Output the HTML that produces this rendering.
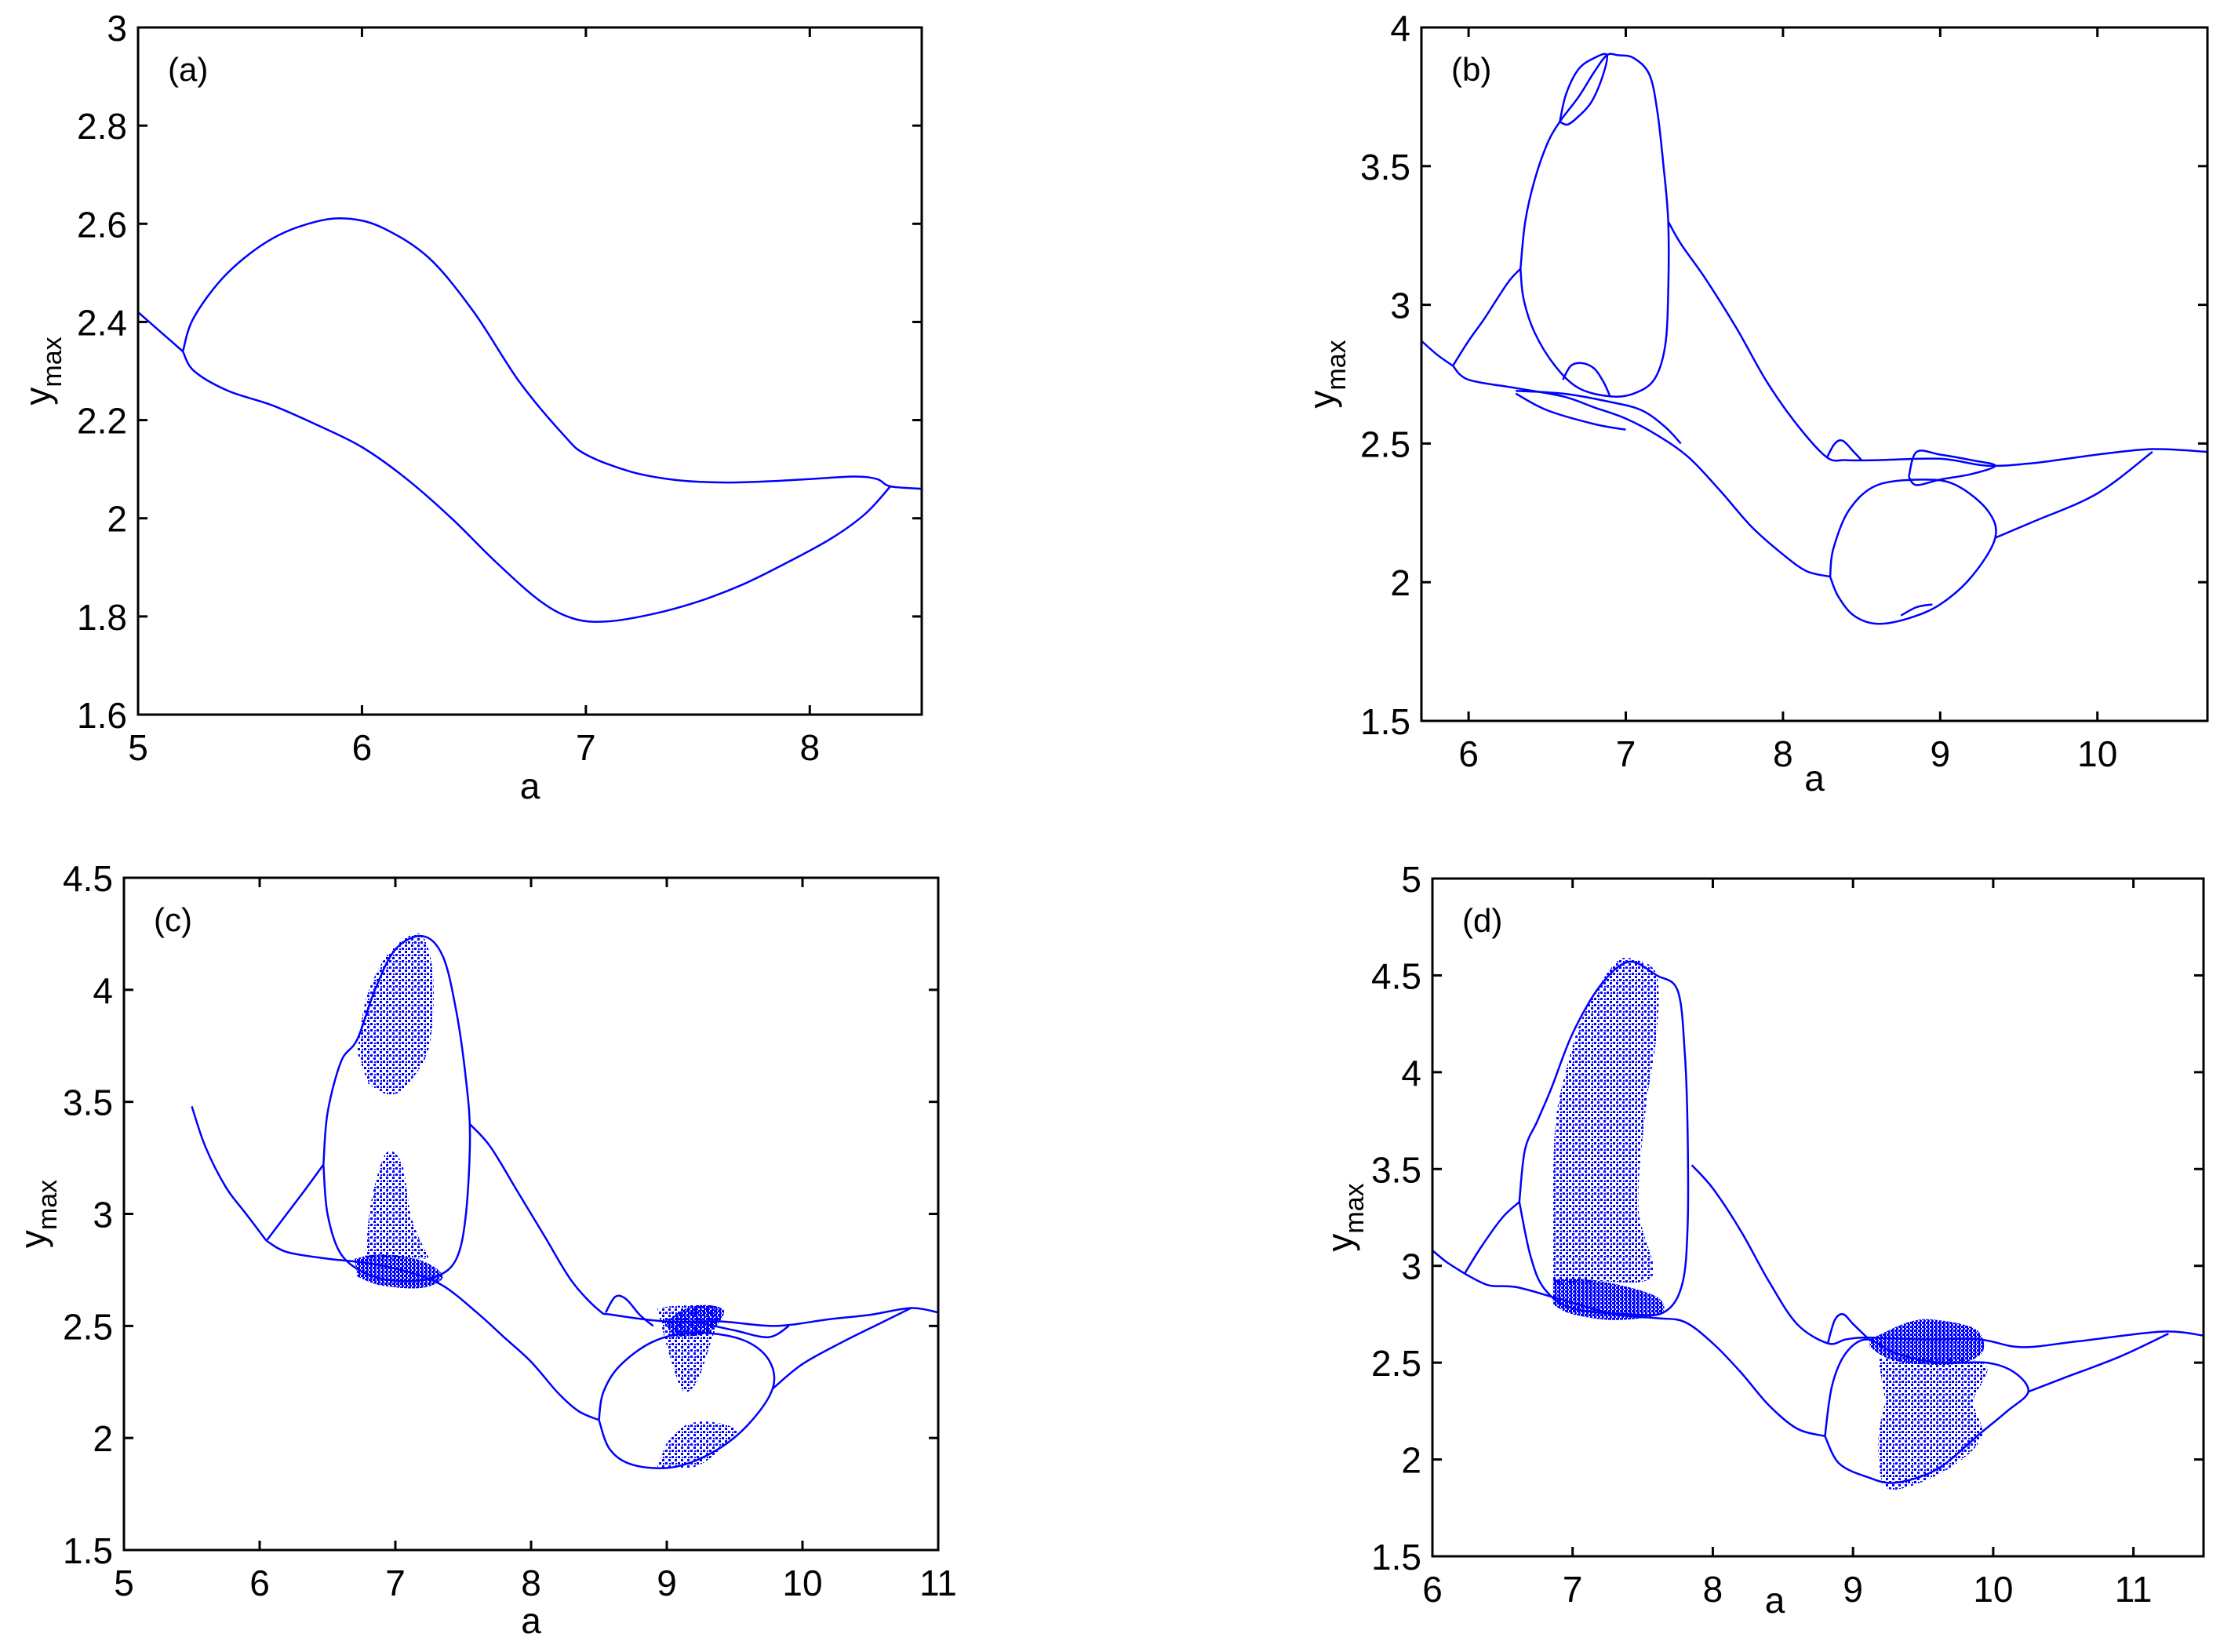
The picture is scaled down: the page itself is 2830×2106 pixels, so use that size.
<!DOCTYPE html>
<html><head><meta charset="utf-8">
<style>
html,body{margin:0;padding:0;background:#fff;}
svg{display:block;}
text{font-family:"Liberation Sans",Arial,sans-serif;fill:#000;}
</style></head>
<body>
<svg id="fig" xmlns="http://www.w3.org/2000/svg" width="2830" height="2106" viewBox="0 0 2830 2106">
<defs>
<pattern id="chaos" width="8" height="8" patternUnits="userSpaceOnUse">
<rect x="0" y="0" width="3" height="3" fill="#0000ff"/>
<rect x="4" y="4" width="3" height="3" fill="#0000ff"/>
<rect x="5" y="1" width="2" height="2" fill="#0000ff"/>
</pattern>
<pattern id="dense" width="5" height="5" patternUnits="userSpaceOnUse">
<rect x="0" y="0" width="4" height="3" fill="#0000ff"/>
<rect x="2" y="3" width="3" height="2" fill="#0000ff"/>
</pattern>
</defs>
</svg>
<script>
// ---------- Panel (a) data ----------
const aXTicks=[5,6,7,8];
const aYTicks=[1.6,1.8,2,2.2,2.4,2.6,2.8,3];
const aYTickLabels=["1.6","1.8","2","2.2","2.4","2.6","2.8","3"];
const aSingle=[[5,2.42],[5.1,2.38],[5.2,2.34]];
const aUpper=[[5.2,2.34],[5.25,2.41],[5.4,2.5],[5.6,2.57],[5.8,2.605],[5.95,2.61],[6.1,2.59],[6.3,2.53],[6.5,2.42],[6.7,2.28],[6.9,2.17],[7.0,2.13],[7.2,2.095],[7.4,2.078],[7.6,2.073],[7.8,2.075],[8.0,2.08],[8.2,2.085],[8.3,2.08],[8.36,2.065],[8.5,2.06]];
const aLower=[[5.2,2.34],[5.25,2.3],[5.4,2.26],[5.6,2.23],[5.8,2.19],[6.0,2.145],[6.2,2.08],[6.4,2.0],[6.6,1.91],[6.8,1.83],[6.95,1.795],[7.1,1.79],[7.3,1.805],[7.5,1.83],[7.7,1.865],[7.9,1.91],[8.1,1.96],[8.25,2.01],[8.36,2.065]];

// ---------- Panel (b) data ----------
const bXTicks=[6,7,8,9,10];
const bYTicks=[1.5,2,2.5,3,3.5,4];
const bYTickLabels=["1.5","2","2.5","3","3.5","4"];
const bStart=[[5.7,2.87],[5.8,2.82],[5.9,2.78]];
const bUpLeft=[[5.9,2.78],[6.0,2.87],[6.1,2.95],[6.25,3.08],[6.33,3.13]];
const bBigLoop=[[6.33,3.13],[6.36,3.3],[6.42,3.45],[6.5,3.58],[6.58,3.66],[6.7,3.75],[6.8,3.84],[6.88,3.9],[6.95,3.9],[7.05,3.89],[7.15,3.83],[7.2,3.7],[7.24,3.5],[7.27,3.3],[7.27,3.05],[7.25,2.85],[7.18,2.73],[7.05,2.68],[6.9,2.67],[6.7,2.7],[6.55,2.78],[6.42,2.9],[6.35,3.02],[6.33,3.13]];
const bTopLoop=[[6.58,3.66],[6.62,3.76],[6.7,3.85],[6.8,3.89],[6.88,3.9],[6.85,3.82],[6.78,3.73],[6.7,3.68],[6.63,3.65],[6.58,3.66]];
const bSmallLoop=[[6.6,2.73],[6.65,2.78],[6.72,2.79],[6.8,2.77],[6.86,2.72],[6.9,2.67]];
const bUpRight=[[7.27,3.3],[7.35,3.22],[7.5,3.1],[7.7,2.92],[7.9,2.72],[8.1,2.56],[8.28,2.45],[8.4,2.44],[8.6,2.44],[9.0,2.445],[9.3,2.42],[9.6,2.43],[10.0,2.46],[10.35,2.48],[10.7,2.47]];
const bBump=[[8.28,2.45],[8.33,2.5],[8.38,2.51],[8.45,2.47],[8.5,2.44]];
const bLowA=[[5.9,2.78],[6.0,2.73],[6.3,2.7],[6.6,2.67],[6.8,2.63],[7.0,2.59],[7.2,2.53],[7.4,2.45],[7.6,2.33],[7.8,2.2],[8.0,2.1],[8.15,2.04],[8.3,2.02]];
const bLowB=[[6.3,2.69],[6.6,2.68],[6.9,2.65],[7.1,2.62],[7.25,2.56],[7.35,2.5]];
const bLowC=[[6.3,2.68],[6.5,2.62],[6.8,2.57],[7.0,2.55]];
const bLoop2=[[8.3,2.02],[8.35,1.95],[8.45,1.88],[8.6,1.85],[8.8,1.87],[9.0,1.92],[9.2,2.02],[9.35,2.16],[9.3,2.26],[9.1,2.35],[8.9,2.37],[8.6,2.35],[8.42,2.26],[8.32,2.12],[8.3,2.02]];
const bLoop3=[[8.8,2.38],[8.85,2.47],[9.0,2.46],[9.2,2.44],[9.35,2.42],[9.2,2.39],[9.0,2.37],[8.85,2.35],[8.8,2.38]];
const bTail=[[9.35,2.16],[9.6,2.22],[10.0,2.32],[10.35,2.47]];
const bSmall2=[[8.75,1.88],[8.85,1.91],[8.95,1.92]];

// ---------- Panel (c) data ----------
const cXTicks=[5,6,7,8,9,10,11];
const cYTicks=[1.5,2,2.5,3,3.5,4,4.5];
const cYTickLabels=["1.5","2","2.5","3","3.5","4","4.5"];
const cStart=[[5.5,3.48],[5.6,3.3],[5.75,3.12],[5.9,3.0],[6.05,2.88]];
const cLowA=[[6.05,2.88],[6.2,2.83],[6.5,2.8],[6.8,2.78],[7.1,2.74],[7.35,2.68],[7.6,2.56],[7.8,2.45],[8.0,2.34],[8.2,2.2],[8.35,2.12],[8.5,2.08]];
const cUpLeft=[[6.05,2.88],[6.2,3.0],[6.35,3.12],[6.47,3.22]];
const cBigLoop=[[6.47,3.22],[6.5,3.45],[6.6,3.68],[6.72,3.78],[6.85,4.0],[7.0,4.18],[7.2,4.24],[7.35,4.15],[7.45,3.9],[7.52,3.6],[7.55,3.35],[7.52,3.0],[7.45,2.8],[7.3,2.72],[7.05,2.7],[6.8,2.73],[6.6,2.82],[6.5,3.0],[6.47,3.22]];
const cUpRight=[[7.55,3.4],[7.7,3.3],[7.9,3.1],[8.1,2.9],[8.3,2.7],[8.5,2.57],[8.6,2.55],[9.0,2.52],[9.4,2.52],[9.8,2.5],[10.2,2.53],[10.5,2.55],[10.8,2.58],[11,2.56]];
const cBump=[[8.55,2.56],[8.62,2.63],[8.7,2.62],[8.8,2.55],[8.9,2.5]];
const cLoop2=[[8.5,2.08],[8.58,1.95],[8.75,1.88],[9.05,1.87],[9.35,1.94],[9.6,2.06],[9.78,2.22],[9.75,2.35],[9.55,2.44],[9.2,2.47],[8.9,2.43],[8.65,2.32],[8.53,2.2],[8.5,2.08]];
const cTail=[[9.78,2.22],[10.0,2.33],[10.3,2.43],[10.6,2.52],[10.8,2.58]];
const cTopLoop=[[9.2,2.52],[9.5,2.48],[9.75,2.45],[9.9,2.5]];
const cChaos1=[[6.72,3.72],[6.78,3.95],[6.9,4.12],[7.05,4.22],[7.2,4.24],[7.28,4.05],[7.25,3.75],[7.12,3.6],[6.97,3.53],[6.8,3.58]];
const cChaos2=[[6.78,2.8],[6.82,3.05],[6.93,3.27],[7.05,3.22],[7.12,2.98],[7.25,2.8]];
const cDense1=[[6.7,2.8],[6.9,2.82],[7.2,2.79],[7.35,2.72],[7.2,2.67],[6.9,2.68],[6.72,2.72]];
const cChaos3=[[8.93,2.58],[9.1,2.59],[9.38,2.58],[9.32,2.42],[9.22,2.25],[9.12,2.21],[9.03,2.35],[8.97,2.48]];
const cDense2=[[8.98,2.52],[9.2,2.59],[9.42,2.57],[9.3,2.47],[9.05,2.45]];
const cChaos4=[[8.93,1.87],[9.2,1.87],[9.4,1.95],[9.52,2.03],[9.35,2.07],[9.15,2.06],[9.0,1.98]];

// ---------- Panel (d) data ----------
const dXTicks=[6,7,8,9,10,11];
const dYTicks=[1.5,2,2.5,3,3.5,4,4.5,5];
const dYTickLabels=["1.5","2","2.5","3","3.5","4","4.5","5"];
const dStart=[[6.0,3.08],[6.1,3.02],[6.23,2.96]];
const dLowA=[[6.23,2.96],[6.4,2.9],[6.6,2.89],[6.9,2.83],[7.3,2.75],[7.6,2.73],[7.8,2.71],[8.0,2.6],[8.2,2.45],[8.4,2.28],[8.6,2.16],[8.8,2.12]];
const dUpLeft=[[6.23,2.96],[6.35,3.1],[6.5,3.25],[6.62,3.33]];
const dBigLoop=[[6.62,3.33],[6.66,3.6],[6.75,3.75],[6.85,3.92],[7.0,4.2],[7.2,4.45],[7.4,4.57],[7.6,4.5],[7.75,4.42],[7.8,4.1],[7.82,3.7],[7.82,3.2],[7.78,2.9],[7.65,2.76],[7.4,2.75],[7.0,2.78],[6.8,2.88],[6.7,3.05],[6.62,3.33]];
const dUpRight=[[7.85,3.52],[8.0,3.4],[8.2,3.18],[8.4,2.92],[8.6,2.7],[8.82,2.6],[8.95,2.62],[9.1,2.63],[9.5,2.62],[9.9,2.62],[10.2,2.58],[10.6,2.61],[11.2,2.66],[11.5,2.64]];
const dBump=[[8.82,2.6],[8.87,2.72],[8.93,2.75],[9.0,2.7],[9.1,2.63]];
const dLoop2=[[8.8,2.12],[8.9,1.98],[9.1,1.91],[9.3,1.88],[9.6,1.95],[9.9,2.13],[10.1,2.25],[10.25,2.35],[10.15,2.45],[9.95,2.5],[9.6,2.5],[9.3,2.55],[9.1,2.62],[8.95,2.55],[8.85,2.38],[8.8,2.12]];
const dTail=[[10.25,2.35],[10.5,2.42],[10.9,2.53],[11.25,2.65]];
const dChaos1=[[6.86,2.9],[6.86,3.4],[6.88,3.75],[6.95,4.0],[7.08,4.3],[7.3,4.56],[7.45,4.58],[7.6,4.5],[7.6,4.2],[7.52,3.8],[7.47,3.3],[7.57,2.95],[7.2,2.92]];
const dDense1=[[6.86,2.93],[7.1,2.93],[7.4,2.89],[7.62,2.83],[7.62,2.75],[7.3,2.72],[7.0,2.75],[6.86,2.8]];
const dDense2=[[9.12,2.62],[9.4,2.71],[9.6,2.72],[9.88,2.67],[9.92,2.55],[9.7,2.49],[9.3,2.51],[9.12,2.58]];
const dChaos2=[[9.18,2.52],[9.92,2.5],[9.86,2.3],[9.92,2.12],[9.72,1.97],[9.4,1.86],[9.22,1.87],[9.18,2.1],[9.23,2.3]];

// ---------- Layout ----------
const panels=[
 {id:"a",x0:176,x1:1175,y0:35,y1:911,xmin:5,xmax:8.5,ymin:1.6,ymax:3,xt:aXTicks,yt:aYTicks,ytl:aYTickLabels,
  lines:[aSingle,aUpper,aLower],areas:[],dense:[],ylabX:48,xlabY:1018},
 {id:"b",x0:1812,x1:2814,y0:35,y1:919,xmin:5.7,xmax:10.7,ymin:1.5,ymax:4,xt:bXTicks,yt:bYTicks,ytl:bYTickLabels,
  lines:[bStart,bUpLeft,bBigLoop,bTopLoop,bSmallLoop,bUpRight,bBump,bLowA,bLowB,bLowC,bLoop2,bLoop3,bTail,bSmall2],areas:[],dense:[],ylabX:1685,xlabY:1008},
 {id:"c",x0:158,x1:1196,y0:1119,y1:1976,xmin:5,xmax:11,ymin:1.5,ymax:4.5,xt:cXTicks,yt:cYTicks,ytl:cYTickLabels,
  lines:[cStart,cLowA,cUpLeft,cBigLoop,cUpRight,cBump,cLoop2,cTail,cTopLoop],areas:[cChaos1,cChaos2,cChaos3,cChaos4],dense:[cDense1,cDense2],ylabX:42,xlabY:2082},
 {id:"d",x0:1826,x1:2809,y0:1120,y1:1984,xmin:6,xmax:11.5,ymin:1.5,ymax:5,xt:dXTicks,yt:dYTicks,ytl:dYTickLabels,
  lines:[dStart,dLowA,dUpLeft,dBigLoop,dUpRight,dBump,dLoop2,dTail],areas:[dChaos1,dChaos2],dense:[dDense1,dDense2],ylabX:1708,xlabY:2056}
];
const NS="http://www.w3.org/2000/svg";
const fig=document.getElementById("fig");
function mk(tag,attrs,parent){const e=document.createElementNS(NS,tag);for(const k in attrs)e.setAttribute(k,attrs[k]);parent.appendChild(e);return e;}
function smooth(pts){
 if(pts.length<3)return "M"+pts.map(p=>p[0]+","+p[1]).join(" L");
 let d="M"+pts[0][0]+","+pts[0][1];
 for(let i=0;i<pts.length-1;i++){
  const p0=pts[Math.max(0,i-1)],p1=pts[i],p2=pts[i+1],p3=pts[Math.min(pts.length-1,i+2)];
  const c1x=p1[0]+(p2[0]-p0[0])/6,c1y=p1[1]+(p2[1]-p0[1])/6;
  const c2x=p2[0]-(p3[0]-p1[0])/6,c2y=p2[1]-(p3[1]-p1[1])/6;
  d+=" C"+c1x.toFixed(1)+","+c1y.toFixed(1)+" "+c2x.toFixed(1)+","+c2y.toFixed(1)+" "+p2[0].toFixed(1)+","+p2[1].toFixed(1);
 }
 return d;
}
panels.forEach(p=>{
 const sx=v=>p.x0+(v-p.xmin)/(p.xmax-p.xmin)*(p.x1-p.x0);
 const sy=v=>p.y1-(v-p.ymin)/(p.ymax-p.ymin)*(p.y1-p.y0);
 const g=mk("g",{},fig);
 
 
 const clipId="clip"+p.id;
 const cp=mk("clipPath",{id:clipId},g);
 mk("rect",{x:p.x0,y:p.y0,width:p.x1-p.x0,height:p.y1-p.y0},cp);
 const plot=mk("g",{"clip-path":"url(#"+clipId+")"},g);
 
 
 p.areas.forEach(ar=>{
  const e=mk("path",{d:smooth(ar.map(q=>[sx(q[0]),sy(q[1])]))+" Z",fill:"url(#chaos)",stroke:"none"},plot);
  
  
 });
 p.dense.forEach(ar=>{
  const e=mk("path",{d:smooth(ar.map(q=>[sx(q[0]),sy(q[1])]))+" Z",fill:"url(#dense)",stroke:"none"},plot);
  
  
 });
 p.lines.forEach(ln=>{
  const e=mk("path",{d:smooth(ln.map(q=>[sx(q[0]),sy(q[1])])),fill:"none",stroke:"#0000ff","stroke-width":2.5,"stroke-linejoin":"round"},plot);
  
  
 });
 const fr=mk("rect",{x:p.x0,y:p.y0,width:p.x1-p.x0,height:p.y1-p.y0,fill:"none",stroke:"#000","stroke-width":3},g);
 
 
 p.xt.forEach(v=>{
  const X=sx(v);
  mk("line",{x1:X,y1:p.y1,x2:X,y2:p.y1-12,stroke:"#000","stroke-width":3},g);
  mk("line",{x1:X,y1:p.y0,x2:X,y2:p.y0+12,stroke:"#000","stroke-width":3},g);
  const t=mk("text",{x:X,y:p.y1+58,"font-size":46,"text-anchor":"middle"},g);
  t.textContent=String(v);
  
  
 });
 p.yt.forEach((v,i)=>{
  const Y=sy(v);
  mk("line",{x1:p.x0,y1:Y,x2:p.x0+12,y2:Y,stroke:"#000","stroke-width":3},g);
  mk("line",{x1:p.x1,y1:Y,x2:p.x1-12,y2:Y,stroke:"#000","stroke-width":3},g);
  const t=mk("text",{x:p.x0-14,y:Y+17,"font-size":46,"text-anchor":"end"},g);
  t.textContent=p.ytl[i];
  
  
 });
 const xl=mk("text",{x:(p.x0+p.x1)/2-(p.id==="d"?55:0),y:p.xlabY,"font-size":46,"text-anchor":"middle"},g);
 xl.textContent="a";
 
 
 const yc=(p.y0+p.y1)/2;
 const yl=mk("text",{x:0,y:0,"font-size":46,"text-anchor":"middle",transform:"translate("+(p.ylabX+16)+","+yc+") rotate(-90)"},g);
 const t1=mk("tspan",{},yl);t1.textContent="y";
 const t2=mk("tspan",{"font-size":34,dy:14},yl);t2.textContent="max";
 
 
 const lab=mk("text",{x:p.x0+38,y:p.y0+68,"font-size":42},g);
 lab.textContent="("+p.id+")";
 
 
});
</script>
</body></html>
